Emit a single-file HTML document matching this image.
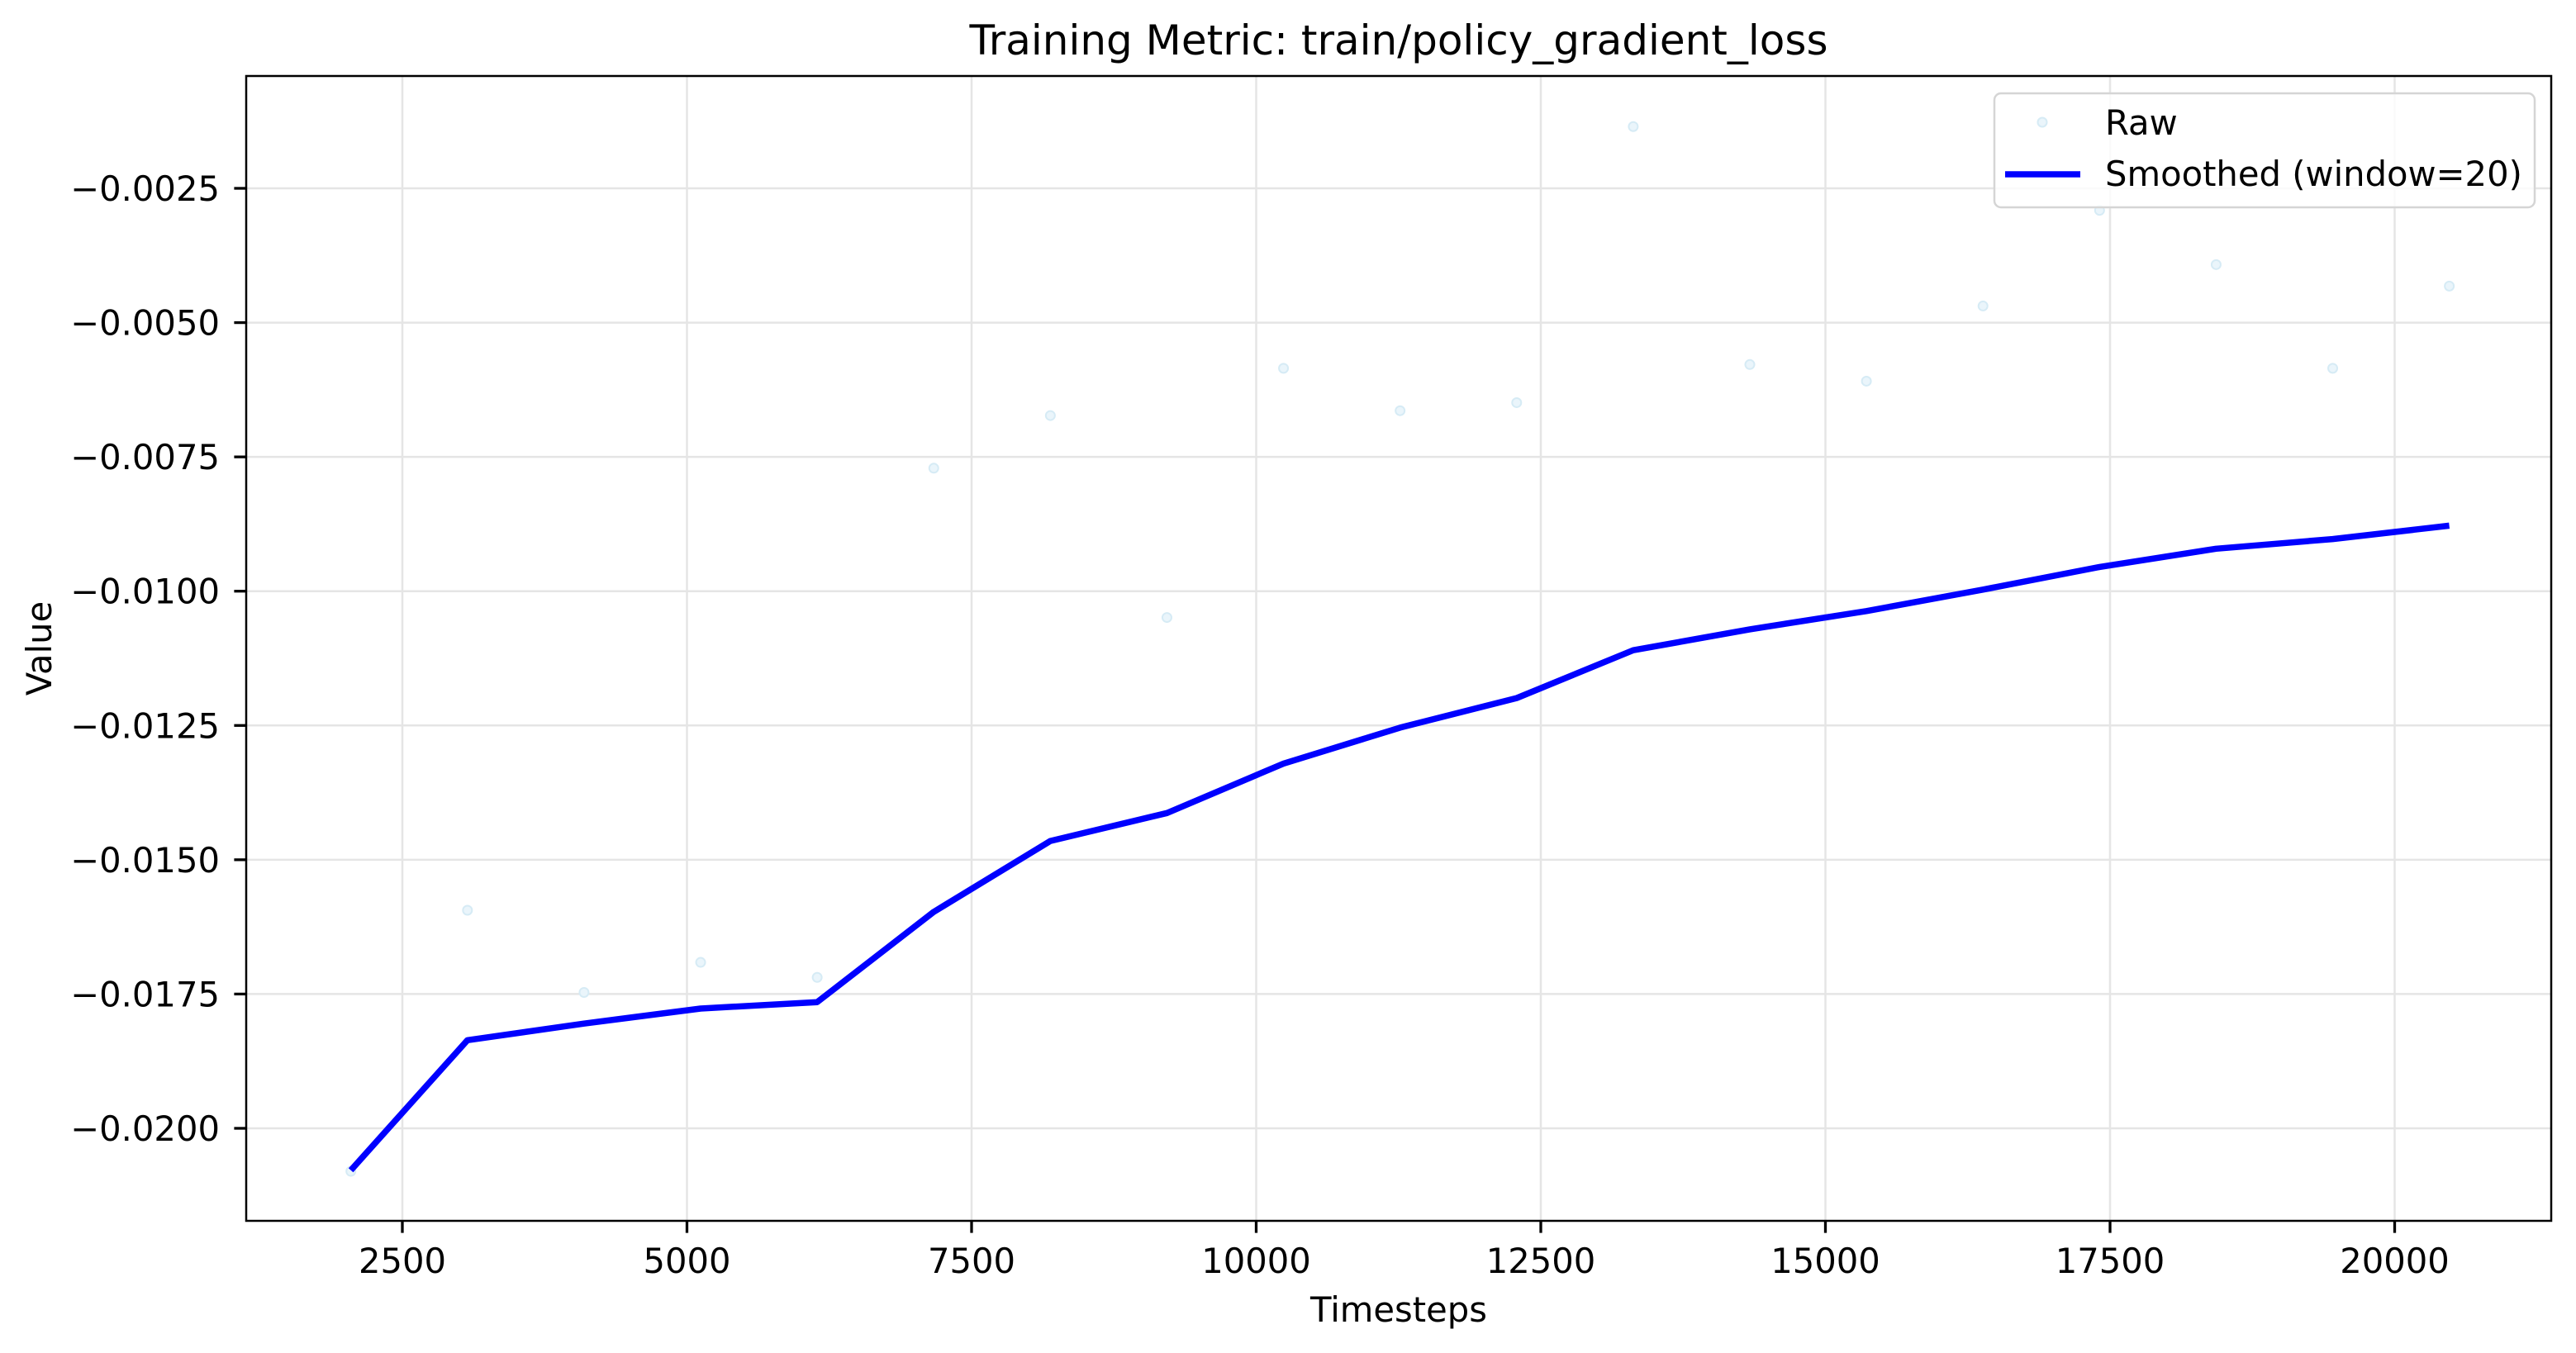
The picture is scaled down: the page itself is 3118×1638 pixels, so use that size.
<!DOCTYPE html>
<html><head><meta charset="utf-8"><style>
html,body{margin:0;padding:0;background:#fff;}
svg{display:block;font-family:"DejaVu Sans","Liberation Sans",sans-serif;}
</style></head><body>
<svg id="chart" width="3118" height="1638" viewBox="0 0 3118 1638" xmlns="http://www.w3.org/2000/svg">
<rect width="3118" height="1638" fill="#fff"/>
<text x="1693" y="66" font-size="50" text-anchor="middle">Training Metric: train/policy_gradient_loss</text>
<g id="grid"></g>
<g id="raw"></g>
<g id="smooth"></g>
<rect x="298" y="92" width="2790" height="1386" fill="none" stroke="#000" stroke-width="2.5"/>
<g id="xticks"></g>
<g id="yticks"></g>
<text x="1693" y="1600" font-size="41.7" text-anchor="middle">Timesteps</text>
<text x="0" y="0" font-size="41.7" text-anchor="middle" transform="translate(62,785) rotate(-90)">Value</text>
<g>
<rect x="2414" y="113" width="654" height="138" rx="8" fill="#fff" fill-opacity="0.8" stroke="#d5d5d5" stroke-width="2.5"/>
<circle cx="2472" cy="148" r="5.5" fill="#eaf5fb" stroke="#d6ebf5" stroke-width="2"/>
<text x="2548" y="163" font-size="41.7">Raw</text>
<line x1="2427" y1="211" x2="2518" y2="211" stroke="#0000ff" stroke-width="7.5"/>
<text x="2548" y="225" font-size="41.7">Smoothed (window=20)</text>
</g>
</svg>
<script>
const timesteps = [2048,3072,4096,5120,6144,7168,8192,9216,10240,11264,12288,13312,14336,15360,16384,17408,18432,19456,20480];
const rawValues = [-0.0208,-0.01594,-0.01747,-0.01691,-0.01719,-0.00771,-0.00673,-0.01049,-0.00585,-0.00664,-0.00649,-0.00135,-0.00578,-0.00609,-0.00469,-0.00291,-0.00392,-0.00585,-0.00432];
const smoothedValues = [-0.02078,-0.01836,-0.01805,-0.01777,-0.01765,-0.01597,-0.01465,-0.01413,-0.01321,-0.01254,-0.01199,-0.0111,-0.01071,-0.01037,-0.00997,-0.00955,-0.00921,-0.00903,-0.00878];
const xTickValues = [2500,5000,7500,10000,12500,15000,17500,20000];
const yTickValues = [-0.0025,-0.005,-0.0075,-0.01,-0.0125,-0.015,-0.0175,-0.02];
const yTickLabels = ["\u22120.0025","\u22120.0050","\u22120.0075","\u22120.0100","\u22120.0125","\u22120.0150","\u22120.0175","\u22120.0200"];

const NS = "http://www.w3.org/2000/svg";
const L=298,R=3088,T=92,B=1478;
function xs(v){return 487+(v-2500)*(344.5/2500);}
function ys(v){return 228+(-0.0025-v)/0.0025*162.57;}
function mk(tag,attrs,parent){const e=document.createElementNS(NS,tag);for(const k in attrs)e.setAttribute(k,attrs[k]);parent.appendChild(e);return e;}
const grid=document.getElementById('grid'),xt=document.getElementById('xticks'),yt=document.getElementById('yticks');
xTickValues.forEach(v=>{
  const x=xs(v);
  const g=mk('line',{x1:x,y1:T,x2:x,y2:B,stroke:'#e5e5e5','stroke-width':2.5},grid);
  
  
  const t=mk('line',{x1:x,y1:B,x2:x,y2:B+14.6,stroke:'#000','stroke-width':3.3},xt);
  
  
  const l=mk('text',{x:x,y:1541,'font-size':41.7,'text-anchor':'middle'},xt);
  l.textContent=String(v);
  
  
});
yTickValues.forEach((v,i)=>{
  const y=ys(v);
  const g=mk('line',{x1:L,y1:y,x2:R,y2:y,stroke:'#e5e5e5','stroke-width':2.5},grid);
  
  
  const t=mk('line',{x1:L-14.6,y1:y,x2:L,y2:y,stroke:'#000','stroke-width':3.3},yt);
  
  
  const l=mk('text',{x:266,y:y+15,'font-size':41.7,'text-anchor':'end'},yt);
  l.textContent=yTickLabels[i];
  
  
});
const rawG=document.getElementById('raw');
timesteps.forEach((t,i)=>{
  const c=mk('circle',{cx:xs(t),cy:ys(rawValues[i]),r:5.5,fill:'#eaf5fb',stroke:'#d6ebf5','stroke-width':2},rawG);
  
  
});
const pts=timesteps.map((t,i)=>xs(t).toFixed(1)+','+ys(smoothedValues[i]).toFixed(1)).join(' ');
const pl=mk('polyline',{points:pts,fill:'none',stroke:'#0000ff','stroke-width':7.5,'stroke-linejoin':'round'},document.getElementById('smooth'));


</script>
</body></html>
